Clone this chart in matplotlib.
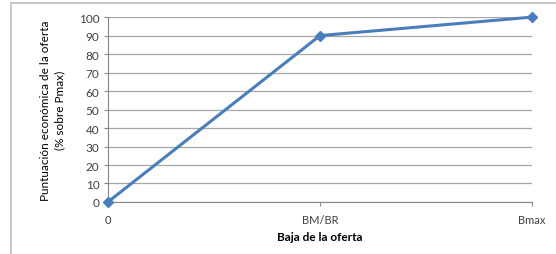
import numpy as np
import matplotlib.pyplot as plt
from matplotlib.patches import Rectangle

categorias = ['0', 'BM/BR', 'Bmax']
puntuacion = [0, 90, 100]
yticks = list(range(0, 101, 10))

plt.rcParams['font.family'] = ['Lato', 'DejaVu Sans']

fig = plt.figure(figsize=(5.56, 2.55), dpi=100)
ax = fig.add_axes([0.194, 0.204, 0.763, 0.725])

x = np.arange(len(categorias))
ax.plot(x, puntuacion, color='#4A7EBB', linewidth=2.2, marker='D', markersize=5,
        zorder=3, clip_on=False)

ax.set_xlim(0, len(categorias) - 1)
ax.set_ylim(0, 100)
ax.set_yticks(yticks)
ax.set_xticks(x)
ax.set_xticklabels(categorias, fontsize=8, color='#404040')
ax.tick_params(axis='y', labelsize=8.5, colors='#404040', length=3, color='#868686', pad=3)
ax.tick_params(axis='x', length=3, color='#868686', pad=6)

ax.grid(axis='y', color='#a6a6a6', linewidth=0.9)
ax.set_axisbelow(True)
for s in ['top', 'right']:
    ax.spines[s].set_visible(False)
ax.spines['left'].set_color('#868686')
ax.spines['bottom'].set_color('#868686')

ax.set_xlabel('Baja de la oferta', fontsize=8.5, fontweight='bold', color='#000000', labelpad=4)
ax.set_ylabel('Puntuación económica de la oferta\n(% sobre Pmax)', fontsize=8.5,
              color='#000000', labelpad=10, linespacing=1.3)

fig.patches.append(Rectangle((0.02, -0.1), 1.2, 1.085, transform=fig.transFigure,
                             fill=False, edgecolor='#bfbfbf', linewidth=1.2))

fig.savefig('out.png', dpi=100)
